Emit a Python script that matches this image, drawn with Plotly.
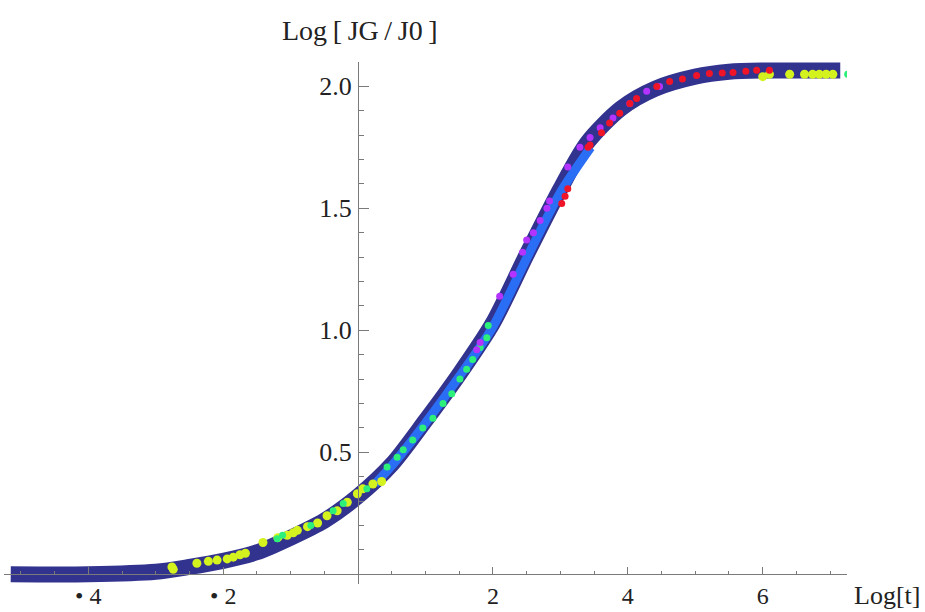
import plotly.graph_objects as go

# Master curve (dark band) - Log[t] vs Log[JG/J0]
curve_x = [-5.15, -4.0, -3.0, -2.5, -2.0, -1.5, -1.0, -0.5, 0.0, 0.5, 1.0, 1.5, 2.0, 2.5, 3.0, 3.4, 3.9, 4.4, 5.0, 5.5, 6.0, 6.5, 7.15]
curve_y = [0.0, 0.0, 0.01, 0.03, 0.055, 0.09, 0.15, 0.22, 0.32, 0.45, 0.63, 0.82, 1.03, 1.31, 1.58, 1.77, 1.91, 1.99, 2.04, 2.06, 2.065, 2.065, 2.065]

# Light blue series (dense, drawn as a band)
blue_x = [0.25, 0.5, 1.0, 1.5, 2.0, 2.5, 3.0, 3.45]
blue_y = [0.37, 0.445, 0.62, 0.81, 1.015, 1.295, 1.565, 1.75]

yellow_x = [-2.76, -2.74, -2.39, -2.22, -2.09, -1.94, -1.85, -1.75, -1.67, -1.41, -1.19, -1.05, -0.96,
            -0.9, -0.75, -0.6, -0.46, -0.31, -0.16, -0.01, 0.07, 0.22, 0.35,
            6.0, 6.1, 6.4, 6.62, 6.74, 6.84, 6.94, 7.04]
yellow_y = [0.03, 0.02, 0.045, 0.053, 0.058, 0.063, 0.07, 0.08, 0.086, 0.13, 0.15, 0.16, 0.17,
            0.18, 0.195, 0.21, 0.24, 0.26, 0.295, 0.33, 0.35, 0.37, 0.38,
            2.04, 2.05, 2.05, 2.05, 2.05, 2.05, 2.05, 2.05]

green_x = [-1.2, -1.12, -0.7, -0.37, -0.22, 0.13, 0.43, 0.58, 0.67, 0.81, 0.96, 1.11, 1.26, 1.39,
           1.51, 1.61, 1.70, 1.81, 1.91, 1.93, 7.26]
green_y = [0.145, 0.16, 0.2, 0.26, 0.29, 0.35, 0.44, 0.48, 0.51, 0.55, 0.60, 0.64, 0.70, 0.74,
           0.80, 0.84, 0.88, 0.93, 0.97, 1.02, 2.05]

magenta_x = [1.76, 1.81, 2.1, 2.3, 2.44, 2.5, 2.6, 2.7, 2.8, 2.84, 3.11, 3.29, 3.44, 3.59, 3.78, 4.03, 4.28, 4.47]
magenta_y = [0.92, 0.95, 1.14, 1.23, 1.32, 1.37, 1.40, 1.45, 1.50, 1.53, 1.67, 1.75, 1.79, 1.83, 1.87, 1.93, 1.98, 2.0]

red_x = [3.02, 3.07, 3.11, 3.41, 3.44, 3.61, 3.73, 3.88, 4.03, 4.13, 4.43, 4.62, 4.81, 5.02, 5.21, 5.40, 5.56, 5.75, 5.91, 6.1]
red_y = [1.52, 1.55, 1.58, 1.75, 1.76, 1.81, 1.85, 1.89, 1.93, 1.95, 2.0, 2.02, 2.03, 2.045, 2.053, 2.055, 2.057, 2.062, 2.066, 2.066]

x_tickvals = [-4, -2, 2, 4, 6]
x_ticktext = ["\u2022 4", "\u2022 2", "2", "4", "6"]
y_tickvals = [0.5, 1.0, 1.5, 2.0]
y_ticktext = ["0.5", "1.0", "1.5", "2.0"]

FONT = "Liberation Serif"
NAVY = "#32328f"

fig = go.Figure()
fig.add_trace(go.Scatter(x=curve_x, y=curve_y, mode="lines",
                         line=dict(color=NAVY, width=16, shape="spline", smoothing=0.8),
                         hoverinfo="skip", showlegend=False))
fig.add_trace(go.Scatter(x=blue_x, y=blue_y, mode="lines",
                         line=dict(color="#2a6ef5", width=9, shape="spline", smoothing=0.8),
                         showlegend=False))
for xs, ys, col, sz in [(yellow_x, yellow_y, "#d4f21e", 9),
                        (green_x, green_y, "#2cf07a", 7),
                        (magenta_x, magenta_y, "#b533ff", 7),
                        (red_x, red_y, "#f01428", 7)]:
    fig.add_trace(go.Scatter(x=xs, y=ys, mode="markers",
                             marker=dict(color=col, size=sz, line=dict(width=0)),
                             showlegend=False))

axis_common = dict(showgrid=False, zeroline=False, showline=True, linecolor="#7a7a7a",
                   linewidth=1.3, ticks="inside", tickcolor="#7a7a7a", tickwidth=1.2,
                   anchor="free")

fig.update_layout(
    width=925, height=612,
    margin=dict(l=4, r=78, t=62, b=28, autoexpand=False),
    paper_bgcolor="white", plot_bgcolor="white",
    xaxis=dict(range=[-5.25, 7.25], domain=[0, 1], position=0.04 / 2.14,
               tickmode="array", tickvals=x_tickvals, ticktext=x_ticktext, ticklen=7,
               minor=dict(ticks="inside", ticklen=3, dtick=0.5, tick0=0, tickcolor="#7a7a7a"),
               ticklabelstandoff=0, tickfont=dict(family=FONT, size=24, color="#222"),
               **axis_common),
    yaxis=dict(range=[-0.04, 2.1], domain=[0, 1], position=5.25 / 12.5,
               tickmode="array", tickvals=y_tickvals, ticktext=y_ticktext, ticklen=10,
               minor=dict(ticks="inside", ticklen=5, dtick=0.1, tick0=0, tickcolor="#7a7a7a"),
               ticklabelstandoff=1, tickfont=dict(family=FONT, size=26, color="#222"),
               **axis_common),
    annotations=[
        dict(text="Log\u2009[\u2009JG\u2009/\u2009J0\u2009]", xref="paper", yref="paper", x=0.422, y=1.061,
             showarrow=False, xanchor="center", yanchor="middle",
             font=dict(family=FONT, size=28, color="#222")),
        dict(text="Log[t]", xref="paper", yref="paper", x=1.047, y=-0.022,
             showarrow=False, xanchor="center", yanchor="middle",
             font=dict(family=FONT, size=26, color="#222")),
    ],
)

fig.write_html("out.html", config={"displayModeBar": False},
               post_script="document.body.style.margin='0';document.body.style.padding='0';")
